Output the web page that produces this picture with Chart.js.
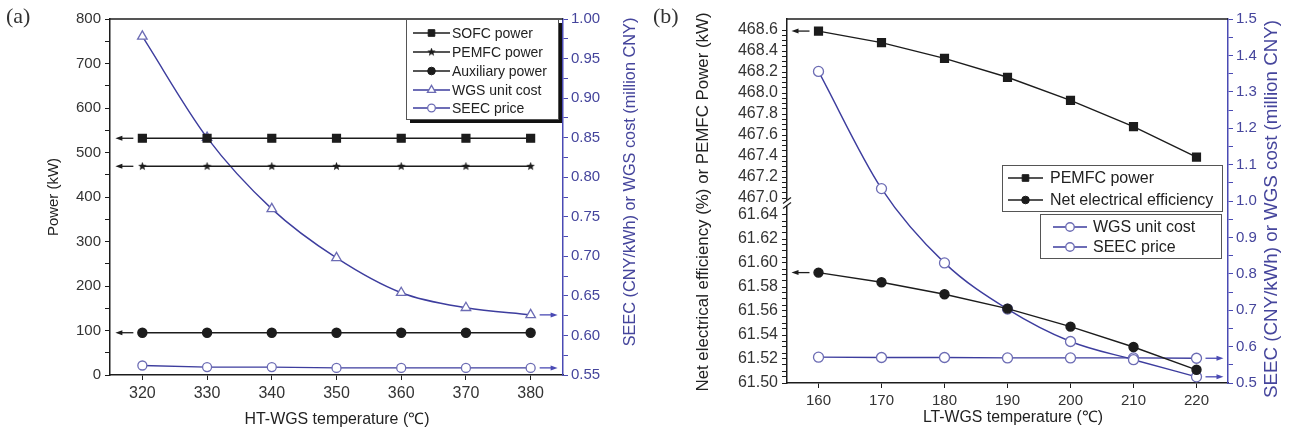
<!DOCTYPE html>
<html>
<head>
<meta charset="utf-8">
<script src="https://cdn.jsdelivr.net/npm/chart.js@4.4.0/dist/chart.umd.min.js"></script>
<style>
  body { margin: 0; background: #fff; width: 1293px; height: 436px; overflow: hidden; position: relative; }
  canvas { position: absolute; top: 0; }
  #chartA { left: 0; }
  #chartB { left: 645px; }
</style>
</head>
<body>
<canvas id="chartA" width="645" height="436"></canvas>
<canvas id="chartB" width="648" height="436"></canvas>
<script>
// (a) HT-WGS
const tempA = [320, 330, 340, 350, 360, 370, 380];
const sofcPowerA = [532, 532, 532, 532, 532, 532, 532];
const pemfcPowerA = [469, 469, 469, 469, 469, 469, 469];
const auxPowerA = [95, 95, 95, 95, 95, 95, 95];
const wgsCostA = [0.978, 0.850, 0.760, 0.698, 0.654, 0.635, 0.626];
const seecPriceA = [0.562, 0.560, 0.560, 0.559, 0.559, 0.559, 0.559];

// (b) LT-WGS
const tempB = [160, 170, 180, 190, 200, 210, 220];
const pemfcPowerB = [468.59, 468.48, 468.33, 468.15, 467.93, 467.68, 467.39];
const netEffB = [61.592, 61.584, 61.574, 61.562, 61.547, 61.530, 61.511];
const wgsCostB = [1.356, 1.034, 0.830, 0.703, 0.614, 0.564, 0.517];
const seecPriceB = [0.571, 0.570, 0.570, 0.569, 0.569, 0.569, 0.568];

// tick labels
const xTicksA = [320, 330, 340, 350, 360, 370, 380];
const powerTicksA = [0, 100, 200, 300, 400, 500, 600, 700, 800];
const costTicksA = [0.55, 0.60, 0.65, 0.70, 0.75, 0.80, 0.85, 0.90, 0.95, 1.00];
const xTicksB = [160, 170, 180, 190, 200, 210, 220];
const powerTicksB = [467.0, 467.2, 467.4, 467.6, 467.8, 468.0, 468.2, 468.4, 468.6];
const effTicksB = [61.50, 61.52, 61.54, 61.56, 61.58, 61.60, 61.62, 61.64];
const costTicksB = [0.5, 0.6, 0.7, 0.8, 0.9, 1.0, 1.1, 1.2, 1.3, 1.4, 1.5];

Chart.defaults.font.family = "'Liberation Sans', Arial, sans-serif";
Chart.defaults.color = '#333';
Chart.defaults.animation = false;

const BLK = '#1c1c1c';
const BLUE = '#3d3d9e';
const BLUE_PT = '#6c6cb4';
const AXBLUE = '#4a4ab4';
const BLUE_TXT = '#45459c';

function starImg(size, color) {
    const c = document.createElement('canvas');
    c.width = c.height = size;
    const g = c.getContext('2d');
    g.fillStyle = color;
    g.beginPath();
    for (let i = 0; i < 10; i++) {
        const r = i % 2 ? size * 0.22 : size * 0.5;
        const a = -Math.PI / 2 + i * Math.PI / 5;
        g.lineTo(size / 2 + r * Math.cos(a), size / 2 + r * Math.sin(a));
    }
    g.closePath();
    g.fill();
    return c;
}
const star = starImg(9, BLK);

const pts = (xs, ys) => xs.map((x, i) => ({ x: x, y: ys[i] }));

// majors get a label, minors in between only a tick
function withMinor(majors, sub) {
    const out = [];
    majors.forEach((v, i) => {
        out.push({ value: v, lab: true });
        if (i < majors.length - 1) {
            const d = (majors[i + 1] - v) / sub;
            for (let k = 1; k < sub; k++) out.push({ value: +(v + k * d).toFixed(6), lab: false });
        }
    });
    return out;
}

function axis(pos, min, max, ticks, fmt, opt) {
    return Object.assign({
        type: 'linear', position: pos, min: min, max: max,
        afterBuildTicks: s => { s.ticks = ticks.map(t => ({ value: t.value, lab: t.lab })); },
        afterFit: s => { if (opt.size) { if (s.isHorizontal()) s.height = opt.size; else s.width = opt.size; } },
        ticks: {
            autoSkip: false, maxRotation: 0, color: opt.labelColor || '#333', padding: opt.pad || 3,
            font: { size: opt.font || 15 },
            callback: (v, i, arr) => arr[i] && arr[i].lab ? fmt(v) : ''
        },
        grid: { drawOnChartArea: false, tickLength: 5, tickColor: opt.color || BLK, tickWidth: 1 },
        border: { color: opt.color || BLK, width: 1.5 },
        title: { display: false }
    }, opt.extra || {});
}

function drawArrow(ctx, x0, x1, y, color) {
    const dir = Math.sign(x1 - x0);
    ctx.strokeStyle = color;
    ctx.fillStyle = color;
    ctx.lineWidth = 1.3;
    ctx.beginPath();
    ctx.moveTo(x0, y);
    ctx.lineTo(x1 - dir * 5, y);
    ctx.stroke();
    ctx.beginPath();
    ctx.moveTo(x1, y);
    ctx.lineTo(x1 - dir * 7, y - 2.5);
    ctx.lineTo(x1 - dir * 7, y + 2.5);
    ctx.closePath();
    ctx.fill();
}

function fitText(ctx, text, cx, cy, len, family, rot, color) {
    ctx.save();
    ctx.font = '20px ' + family;
    const size = 20 * len / ctx.measureText(text).width;
    ctx.font = size.toFixed(2) + 'px ' + family;
    ctx.fillStyle = color;
    ctx.textAlign = 'center';
    ctx.textBaseline = 'middle';
    ctx.translate(cx, cy);
    ctx.rotate(rot);
    ctx.fillText(text, 0, 0);
    ctx.restore();
}

const deco = {
    id: 'deco',
    afterDraw(chart, args, o) {
        const ctx = chart.ctx, a = chart.chartArea;
        ctx.save();
        // top frame
        ctx.strokeStyle = BLK;
        ctx.lineWidth = 1.5;
        ctx.beginPath();
        ctx.moveTo(a.left, a.top);
        ctx.lineTo(a.right, a.top);
        ctx.stroke();

        // arrows showing which axis a series belongs to
        chart.data.datasets.forEach((ds, i) => {
            if (!ds.arrow) return;
            const p = chart.getDatasetMeta(i).data;
            const q = ds.arrow === 'left' ? p[0] : p[p.length - 1];
            const dir = ds.arrow === 'left' ? -1 : 1;
            drawArrow(ctx, q.x + dir * 9, q.x + dir * 27, q.y, ds.arrowColor || ds.borderColor);
        });

        // axis break
        if (o.breakAxis) {
            const s = chart.scales[o.breakAxis];
            const x = s.right, y = s.bottom;
            ctx.fillStyle = '#fff';
            ctx.fillRect(x - 3, y - 3, 6, 6);
            ctx.strokeStyle = BLK;
            ctx.lineWidth = 1.2;
            [-2.5, 2.5].forEach(d => {
                ctx.beginPath();
                ctx.moveTo(x - 4, y + d + 3);
                ctx.lineTo(x + 4, y + d - 3);
                ctx.stroke();
            });
        }

        // legend boxes
        (o.legends || []).forEach(b => {
            if (b.shadow) {
                ctx.fillStyle = '#111';
                ctx.fillRect(b.l + 4, b.t + 4, b.r - b.l, b.b - b.t);
            }
            ctx.fillStyle = '#fff';
            ctx.fillRect(b.l, b.t, b.r - b.l, b.b - b.t);
            ctx.strokeStyle = '#555';
            ctx.lineWidth = 1;
            ctx.strokeRect(b.l + 0.5, b.t + 0.5, b.r - b.l, b.b - b.t);
            b.rows.forEach(r => {
                const ds = chart.data.datasets[r.ds];
                ctx.strokeStyle = ds.borderColor;
                ctx.lineWidth = 1.3;
                ctx.beginPath();
                ctx.moveTo(b.lx0, r.y);
                ctx.lineTo(b.lx1, r.y);
                ctx.stroke();
                ctx.fillStyle = ds.pointBackgroundColor || ds.borderColor;
                ctx.strokeStyle = ds.pointBorderColor || ds.borderColor;
                ctx.lineWidth = ds.pointBorderWidth || 1;
                Chart.helpers.drawPoint(ctx, {
                    pointStyle: ds.pointStyle, radius: ds.pointRadius * 0.85, rotation: 0,
                    borderWidth: ds.pointBorderWidth || 1
                }, (b.lx0 + b.lx1) / 2, r.y);
                ctx.fillStyle = '#222';
                ctx.font = b.font + "px 'Liberation Sans', Arial, sans-serif";
                ctx.textAlign = 'left';
                ctx.textBaseline = 'middle';
                ctx.fillText(ds.label, b.tx, r.y + 1);
            });
        });

        // axis titles
        (o.titles || []).forEach(t => {
            fitText(ctx, t.text, t.x, t.y, t.len, "'Liberation Sans', Arial, sans-serif", t.rot || 0, t.color || '#222');
        });

        // panel tag
        ctx.fillStyle = '#333';
        ctx.font = "22px 'Liberation Serif', 'DejaVu Serif', serif";
        ctx.textAlign = 'left';
        ctx.textBaseline = 'middle';
        ctx.fillText(o.tag, o.tagX, 17);
        ctx.restore();
    }
};

const rightTitle = 'SEEC (CNY/kWh) or WGS cost (million CNY)';

// ---------- panel (a) ----------
new Chart(document.getElementById('chartA'), {
    type: 'line',
    data: {
        datasets: [
            { label: 'SOFC power', data: pts(tempA, sofcPowerA), yAxisID: 'y', borderColor: BLK, backgroundColor: BLK,
              borderWidth: 1.4, pointStyle: 'rect', pointRadius: 5.5, pointBackgroundColor: BLK, pointBorderColor: BLK, arrow: 'left' },
            { label: 'PEMFC power', data: pts(tempA, pemfcPowerA), yAxisID: 'y', borderColor: BLK, backgroundColor: BLK,
              borderWidth: 1.4, pointStyle: star, pointRadius: 5, arrow: 'left' },
            { label: 'Auxiliary power', data: pts(tempA, auxPowerA), yAxisID: 'y', borderColor: BLK, backgroundColor: BLK,
              borderWidth: 1.4, pointStyle: 'circle', pointRadius: 4.5, pointBackgroundColor: BLK, pointBorderColor: BLK, arrow: 'left' },
            { label: 'WGS unit cost', data: pts(tempA, wgsCostA), yAxisID: 'y2', borderColor: BLUE, backgroundColor: '#fff',
              borderWidth: 1.4, pointStyle: 'triangle', pointRadius: 5.5, pointBackgroundColor: '#fff', pointBorderColor: BLUE_PT,
              pointBorderWidth: 1.3, cubicInterpolationMode: 'monotone', arrow: 'right', arrowColor: AXBLUE },
            { label: 'SEEC price', data: pts(tempA, seecPriceA), yAxisID: 'y2', borderColor: BLUE, backgroundColor: '#fff',
              borderWidth: 1.4, pointStyle: 'circle', pointRadius: 4.5, pointBackgroundColor: '#fff', pointBorderColor: BLUE_PT,
              pointBorderWidth: 1.3, arrow: 'right', arrowColor: AXBLUE }
        ]
    },
    options: {
        responsive: false,
        layout: { padding: { top: 19, left: 0, right: 0, bottom: 0 } },
        plugins: {
            legend: { display: false },
            tooltip: { enabled: false },
            deco: {
                tag: '(a)', tagX: 6,
                legends: [{ l: 406, t: 19, r: 558, b: 119, shadow: true, lx0: 413, lx1: 450, tx: 452, font: 14,
                            rows: [{ ds: 0, y: 33 }, { ds: 1, y: 52 }, { ds: 2, y: 71 }, { ds: 3, y: 90 }, { ds: 4, y: 108 }] }],
                titles: [
                    { text: 'Power (kW)', x: 54, y: 197, len: 78, rot: -Math.PI / 2 },
                    { text: 'HT-WGS temperature (\u2103)', x: 337, y: 420, len: 185 },
                    { text: rightTitle, x: 630, y: 182, len: 329, rot: -Math.PI / 2, color: BLUE_TXT }
                ]
            }
        },
        scales: {
            x: axis('bottom', 315, 385, withMinor(xTicksA, 1), v => String(v), { size: 61, font: 16, pad: 4 }),
            y: axis('left', 0, 800, withMinor(powerTicksA, 2), v => String(v), { size: 110, pad: 4 }),
            y2: axis('right', 0.55, 1.00, withMinor(costTicksA, 2), v => v.toFixed(2),
                     { size: 82, color: AXBLUE, labelColor: BLUE_TXT, pad: 3 })
        }
    },
    plugins: [deco]
});

// ---------- panel (b) ----------
new Chart(document.getElementById('chartB'), {
    type: 'line',
    data: {
        datasets: [
            { label: 'PEMFC power', data: pts(tempB, pemfcPowerB), yAxisID: 'yTop', borderColor: BLK, backgroundColor: BLK,
              borderWidth: 1.4, pointStyle: 'rect', pointRadius: 5.5, pointBackgroundColor: BLK, pointBorderColor: BLK, arrow: 'left' },
            { label: 'Net electrical efficiency', data: pts(tempB, netEffB), yAxisID: 'yBot', borderColor: BLK, backgroundColor: BLK,
              borderWidth: 1.4, pointStyle: 'circle', pointRadius: 4.5, pointBackgroundColor: BLK, pointBorderColor: BLK, arrow: 'left' },
            { label: 'WGS unit cost', data: pts(tempB, wgsCostB), yAxisID: 'yR', borderColor: BLUE, backgroundColor: '#fff',
              borderWidth: 1.4, pointStyle: 'circle', pointRadius: 5, pointBackgroundColor: '#fff', pointBorderColor: BLUE_PT,
              pointBorderWidth: 1.3, cubicInterpolationMode: 'monotone', arrow: 'right', arrowColor: AXBLUE },
            { label: 'SEEC price', data: pts(tempB, seecPriceB), yAxisID: 'yR', borderColor: BLUE, backgroundColor: '#fff',
              borderWidth: 1.4, pointStyle: 'circle', pointRadius: 5, pointBackgroundColor: '#fff', pointBorderColor: BLUE_PT,
              pointBorderWidth: 1.3, arrow: 'right', arrowColor: AXBLUE }
        ]
    },
    options: {
        responsive: false,
        layout: { padding: { top: 19, left: 0, right: 0, bottom: 0 } },
        plugins: {
            legend: { display: false },
            tooltip: { enabled: false },
            deco: {
                tag: '(b)', tagX: 8, breakAxis: 'yTop',
                legends: [
                    { l: 357, t: 165, r: 577, b: 211, lx0: 363, lx1: 398, tx: 405, font: 16,
                      rows: [{ ds: 0, y: 178 }, { ds: 1, y: 200 }] },
                    { l: 395, t: 214, r: 576, b: 258, lx0: 408, lx1: 442, tx: 448, font: 16,
                      rows: [{ ds: 2, y: 227 }, { ds: 3, y: 247 }] }
                ],
                titles: [
                    { text: 'Net electrical efficiency (%) or PEMFC Power (kW)', x: 58, y: 202, len: 379, rot: -Math.PI / 2 },
                    { text: 'LT-WGS temperature (\u2103)', x: 368, y: 418, len: 180 },
                    { text: rightTitle, x: 627, y: 209, len: 378, rot: -Math.PI / 2, color: BLUE_TXT }
                ]
            }
        },
        scales: {
            x: axis('bottom', 155, 225, withMinor(xTicksB, 1), v => String(v), { size: 53, font: 15, pad: 4 }),
            yTop: axis('left', 466.953, 468.705, withMinor(powerTicksB, 4), v => v.toFixed(1),
                       { size: 142, font: 16, pad: 4, extra: { stack: 'left', stackWeight: 184, weight: 2 } }),
            yBot: axis('left', 61.50, 61.65, withMinor(effTicksB, 4), v => v.toFixed(2),
                       { size: 142, font: 16, pad: 4, extra: { stack: 'left', stackWeight: 180, weight: 1 } }),
            yR: axis('right', 0.5, 1.5, withMinor(costTicksB, 2), v => v.toFixed(1),
                     { size: 65, color: AXBLUE, labelColor: BLUE_TXT, pad: 3 })
        }
    },
    plugins: [deco]
});
</script>
</body>
</html>
